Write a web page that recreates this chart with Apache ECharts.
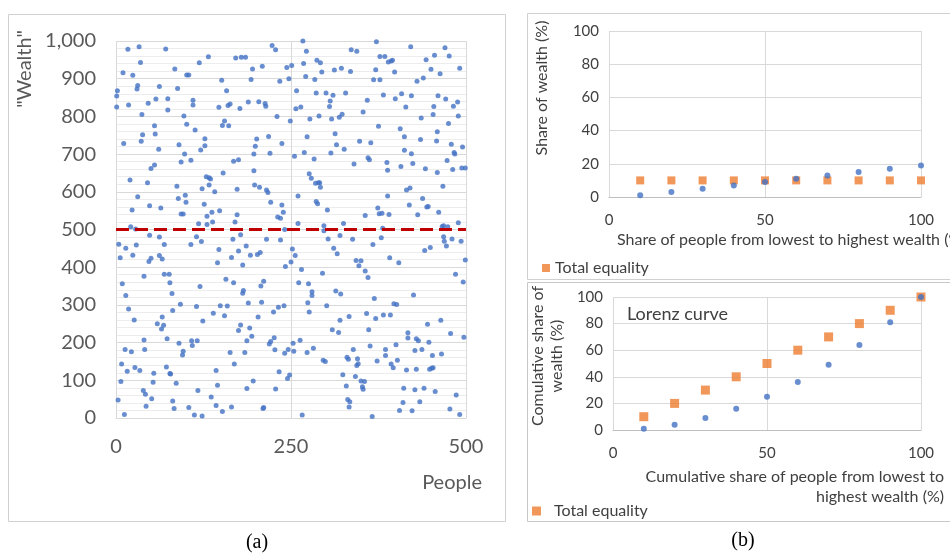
<!DOCTYPE html>
<html>
<head>
<meta charset="utf-8">
<title>Wealth distribution</title>
<script src="https://cdn.jsdelivr.net/npm/echarts@6/dist/echarts.min.js"></script>
<style>
  html, body { margin: 0; padding: 0; background: #fff; }
  #chart { width: 950px; height: 556px; }
</style>
</head>
<body>
<div id="chart"></div>
<script>
// (a) one point per person: [person, wealth]
const wealthPoints = [
  [1,854],[1,825],[2,868],[3,48],[4,461],[6,425],[7,97],[8,143],[9,356],[10,916],[11,728],[12,9],[13,182],[14,325],[14,450],[16,124],[17,978],[18,830],[18,289],[20,631],
  [21,507],[22,176],[23,552],[24,432],[24,909],[26,260],[27,134],[28,501],[29,459],[30,873],[31,587],[31,882],[33,985],[34,126],[35,943],[36,734],[37,805],[38,751],[39,73],[40,376],
  [40,207],[41,182],[42,63],[43,31],[45,624],[46,835],[47,415],[48,563],[48,485],[50,662],[50,424],[51,51],[53,95],[54,119],[55,671],[55,775],[56,753],[57,846],[59,250],[61,713],
  [62,480],[62,431],[62,879],[64,557],[65,236],[66,422],[66,268],[68,246],[69,460],[69,381],[71,979],[72,135],[73,210],[74,847],[74,817],[76,381],[77,359],[77,118],[78,117],[80,330],
  [81,45],[81,285],[83,25],[84,926],[86,92],[87,615],[88,874],[89,582],[90,725],[90,198],[92,302],[93,679],[93,541],[95,167],[96,177],[96,541],[97,801],[98,700],[99,591],[100,572],
  [101,779],[101,910],[104,910],[104,28],[107,460],[107,684],[108,205],[109,192],[110,830],[110,843],[112,8],[113,764],[115,481],[115,296],[116,205],[117,73],[118,515],[119,942],[120,349],[121,711],
  [122,468],[123,608],[123,5],[124,257],[126,567],[127,741],[127,722],[129,640],[130,513],[130,535],[132,958],[133,637],[133,618],[135,634],[136,56],[137,546],[138,520],[139,278],[141,600],[143,126],
  [143,33],[145,87],[145,412],[147,824],[147,447],[148,550],[149,298],[151,896],[152,776],[152,17],[153,650],[155,271],[155,788],[157,368],[158,868],[159,297],[160,829],[161,775],[163,833],[163,174],
  [165,426],[165,29],[167,474],[168,359],[168,681],[169,143],[170,520],[171,955],[173,607],[173,539],[175,232],[175,443],[175,685],[177,821],[178,486],[178,247],[179,957],[181,406],[181,331],[182,338],
  [184,174],[185,957],[186,456],[187,205],[187,78],[189,838],[189,305],[191,239],[192,432],[193,898],[194,217],[195,926],[196,98],[197,656],[197,700],[198,618],[199,721],[201,740],[202,434],[203,268],
  [204,839],[205,612],[206,439],[207,350],[208,307],[209,933],[210,25],[211,363],[211,28],[213,834],[214,827],[215,605],[215,474],[217,598],[218,747],[219,196],[220,702],[221,203],[221,572],[223,988],
  [225,281],[226,213],[227,181],[228,977],[228,77],[230,800],[231,533],[232,294],[233,123],[234,893],[235,472],[235,530],[237,728],[237,565],[239,546],[240,298],[241,500],[241,172],[242,402],[244,930],
  [245,105],[246,182],[247,900],[248,114],[249,788],[250,414],[251,935],[252,448],[253,198],[254,177],[255,694],[256,431],[257,820],[258,868],[260,589],[260,516],[261,359],[263,206],[264,825],[265,394],
  [266,8],[267,1000],[268,940],[269,704],[271,906],[272,973],[273,746],[273,174],[274,306],[275,356],[276,281],[276,648],[277,793],[279,636],[280,325],[280,335],[282,185],[283,687],[284,898],[285,623],
  [286,574],[286,862],[287,949],[288,568],[289,624],[290,801],[291,624],[292,612],[292,942],[294,918],[295,384],[296,153],[297,510],[297,497],[299,150],[300,862],[301,298],[302,552],[303,475],[305,826],
  [306,841],[307,703],[308,793],[309,234],[310,856],[311,450],[312,923],[313,754],[314,337],[315,725],[316,436],[318,227],[319,798],[320,484],[320,259],[321,329],[322,928],[323,806],[324,115],[325,516],
  [326,713],[328,862],[329,85],[330,161],[331,49],[332,156],[333,29],[333,269],[334,43],[335,919],[336,977],[338,474],[339,182],[340,674],[342,110],[343,418],[344,973],[344,139],[345,157],[346,144],
  [347,404],[348,734],[350,417],[350,98],[352,83],[353,76],[353,812],[355,97],[356,390],[356,537],[358,277],[359,843],[360,373],[360,690],[361,234],[362,685],[363,191],[364,730],[366,4],[367,460],
  [368,897],[369,317],[371,924],[371,264],[372,998],[373,151],[374,557],[375,774],[376,542],[377,959],[377,897],[379,478],[380,543],[381,503],[382,857],[382,273],[384,959],[385,182],[385,166],[387,678],
  [388,657],[388,589],[389,944],[390,540],[391,425],[392,273],[393,947],[393,143],[395,949],[396,133],[397,303],[398,918],[399,847],[400,194],[401,301],[402,153],[404,412],[405,20],[406,767],[407,667],
  [408,860],[410,41],[411,79],[412,746],[412,710],[414,825],[415,127],[415,605],[417,212],[417,226],[419,565],[420,610],[421,985],[422,701],[422,855],[423,19],[424,675],[425,326],[427,179],[427,75],
  [429,210],[429,129],[430,893],[431,539],[432,205],[434,43],[435,739],[436,796],[437,182],[438,582],[439,902],[440,79],[441,444],[442,661],[443,950],[444,560],[445,249],[446,561],[447,201],[448,129],
  [449,452],[450,925],[451,132],[452,166],[453,133],[453,805],[454,826],[455,962],[456,70],[458,735],[459,651],[459,759],[460,855],[461,546],[463,913],[464,259],[465,170],[466,508],[467,615],[468,481],
  [468,510],[469,469],[470,982],[471,846],[472,456],[473,683],[474,507],[475,781],[476,960],[477,24],[478,224],[479,726],[480,475],[481,659],[482,827],[483,704],[484,700],[485,381],[486,61],[488,838],
  [489,518],[489,801],[491,9],[491,928],[493,469],[494,663],[495,719],[496,361],[497,214],[499,663],[499,419]
];
// average wealth line
const averageLine = [[0, 500], [500, 500]];

// (b) deciles
const peopleShare = [10, 20, 30, 40, 50, 60, 70, 80, 90, 100];
const wealthShare = [1, 3, 5, 7, 9, 11, 13, 15, 17, 19];
const equalShare = [10, 10, 10, 10, 10, 10, 10, 10, 10, 10];
const cumWealthShare = [1, 4, 9, 16, 25, 36, 49, 64, 81, 100];
const cumEqualShare = [10, 20, 30, 40, 50, 60, 70, 80, 90, 100];

const FONT = 'Lato, "Open Sans", sans-serif';
const BLUE = '#4472C4';
const ORANGE = '#ED7D31';
const GRID_COLOR = '#d9d9d9';

const pairs = (xs, ys) => xs.map((x, i) => [x, ys[i]]);

const chart = echarts.init(document.getElementById('chart'));

// small helper so the two right-hand charts share the same axis look
function pctAxis(gridIndex, isX) {
  return {
    type: 'value', gridIndex: gridIndex, min: 0, max: 100, interval: isX ? 50 : 20,
    axisLine: { show: isX, lineStyle: { color: '#bfbfbf' } },
    axisTick: { show: false },
    axisLabel: { color: '#404040', fontFamily: FONT, fontSize: 15, margin: isX ? 16 : 10 },
    splitLine: { show: true, lineStyle: { color: GRID_COLOR } }
  };
}

function boxText(x, y, text, opts, rotated) {
  const g = {
    type: 'text', x: x, y: y,
    style: Object.assign({ text: text, fill: '#404040', font: '16px ' + FONT, align: 'left', verticalAlign: 'middle' }, opts || {})
  };
  if (rotated) g.rotation = Math.PI / 2;
  return g;
}

const option = {
  animation: false,
  backgroundColor: '#fff',
  grid: [
    { left: 116, top: 41, width: 350, height: 377 },
    { left: 609, top: 31, width: 312, height: 166 },
    { left: 613, top: 297, width: 308, height: 133 }
  ],
  xAxis: [
    {
      type: 'value', gridIndex: 0, min: 0, max: 500, interval: 250,
      axisLine: { lineStyle: { color: GRID_COLOR } },
      axisTick: { show: false },
      axisLabel: { color: '#595959', fontFamily: FONT, fontSize: 20, margin: 19 },
      splitLine: { show: true, lineStyle: { color: GRID_COLOR } }
    },
    pctAxis(1, true),
    pctAxis(2, true)
  ],
  yAxis: [
    {
      type: 'value', gridIndex: 0, min: 0, max: 1000, interval: 100,
      axisLine: { show: false },
      axisTick: { show: false },
      axisLabel: {
        color: '#595959', fontFamily: FONT, fontSize: 20, margin: 20,
        formatter: v => v.toLocaleString('en-US')
      },
      splitLine: { show: true, lineStyle: { color: GRID_COLOR } },
      minorTick: { show: false, splitNumber: 5 },
      minorSplitLine: { show: true, lineStyle: { color: '#ececec' } }
    },
    pctAxis(1, false),
    pctAxis(2, false)
  ],
  legend: [
    {
      data: ['Total equality'], left: 537, top: 255, icon: 'rect',
      itemWidth: 8, itemHeight: 8, itemGap: 5,
      textStyle: { color: '#404040', fontFamily: FONT, fontSize: 16 }
    },
    {
      data: ['Total equality'], left: 527, top: 498, icon: 'rect',
      itemWidth: 9, itemHeight: 9, itemGap: 5,
      textStyle: { color: '#404040', fontFamily: FONT, fontSize: 16, padding: [0, 0, 0, 8] }
    }
  ],
  graphic: [
    // panel frames
    { type: 'rect', shape: { x: 8.5, y: 14.5, width: 497, height: 507 }, style: { fill: 'none', stroke: '#d0d0d0', lineWidth: 1 }, silent: true },
    { type: 'rect', shape: { x: 527.5, y: 13.5, width: 440, height: 266 }, style: { fill: 'none', stroke: '#d0d0d0', lineWidth: 1 }, silent: true },
    { type: 'rect', shape: { x: 527.5, y: 282.5, width: 440, height: 239 }, style: { fill: 'none', stroke: '#c8c8c8', lineWidth: 1 }, silent: true },
    // (a) titles
    boxText(25, 69, '"Wealth"', { fill: '#595959', font: '20px ' + FONT, align: 'center' }, true),
    boxText(482, 483, 'People', { fill: '#595959', font: '20px ' + FONT, align: 'right' }),
    // (b) top titles
    boxText(542, 88, 'Share of wealth (%)', { align: 'center' }, true),
    boxText(617, 240, 'Share of people from lowest to highest wealth (%)'),
    // (b) bottom titles
    boxText(547, 356, 'Comulative share of\nwealth (%)', { align: 'center', lineHeight: 19 }, true),
    boxText(944, 477, 'Cumulative share of people from lowest to', { align: 'right' }),
    boxText(944, 497, 'highest wealth (%)', { align: 'right' }),
    boxText(627, 314, 'Lorenz curve', { font: '18px ' + FONT }),
    // sub-figure captions
    boxText(257, 543, '(a)', { fill: '#000', font: '20px "Liberation Serif", serif', align: 'center' }),
    boxText(743, 541, '(b)', { fill: '#000', font: '20px "Liberation Serif", serif', align: 'center' })
  ],
  series: [
    {
      type: 'scatter', xAxisIndex: 0, yAxisIndex: 0,
      data: wealthPoints, symbolSize: 5,
      itemStyle: { color: BLUE }
    },
    {
      type: 'line', xAxisIndex: 0, yAxisIndex: 0,
      data: averageLine, symbol: 'none', z: 3,
      lineStyle: { color: '#C00000', width: 3, type: [13, 6] }
    },
    {
      name: 'Total equality', type: 'scatter', xAxisIndex: 1, yAxisIndex: 1,
      data: pairs(peopleShare, equalShare), symbol: 'rect', symbolSize: 8,
      itemStyle: { color: ORANGE }
    },
    {
      type: 'scatter', xAxisIndex: 1, yAxisIndex: 1,
      data: pairs(peopleShare, wealthShare), symbolSize: 6,
      itemStyle: { color: BLUE }
    },
    {
      name: 'Total equality', type: 'scatter', xAxisIndex: 2, yAxisIndex: 2,
      data: pairs(peopleShare, cumEqualShare), symbol: 'rect', symbolSize: 9,
      itemStyle: { color: ORANGE }
    },
    {
      type: 'scatter', xAxisIndex: 2, yAxisIndex: 2,
      data: pairs(peopleShare, cumWealthShare), symbolSize: 6,
      itemStyle: { color: BLUE }
    }
  ]
};

chart.setOption(option);
</script>
</body>
</html>
